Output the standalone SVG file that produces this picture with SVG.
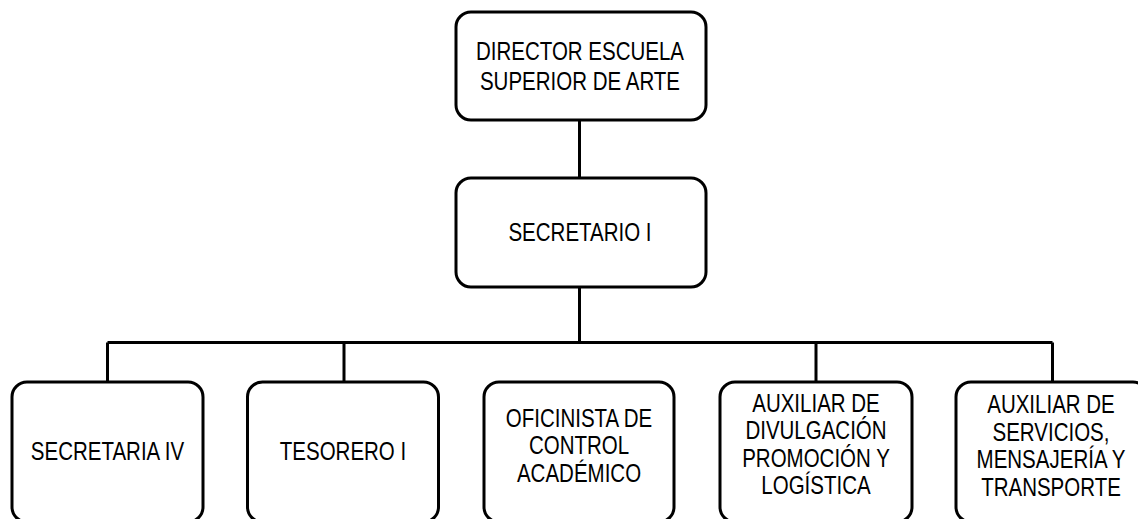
<svg xmlns="http://www.w3.org/2000/svg" width="1138" height="519" viewBox="0 0 1138 519">
<style>
.box{fill:#fff;stroke:#000;stroke-width:3}
.conn{fill:none;stroke:#000;stroke-width:3}
text{font-family:"Liberation Sans",Arial,sans-serif;font-size:25px;fill:#000;text-anchor:middle}
</style>
<rect width="1138" height="519" fill="#fff"/>
<g id="connectors">
<path class="conn" d="M579.5 120V178M579.5 287V342.5M107.5 342.5H1052.5M107.5 342.5V382M344 342.5V382M816 342.5V382M1052.5 342.5V382"/>
</g>
<g id="director">
<rect class="box" x="456" y="12" width="250" height="108" rx="15"/>
<g transform="translate(580 0) scale(0.82 1)">
<text x="0" y="60">DIRECTOR ESCUELA</text>
<text x="0" y="90">SUPERIOR DE ARTE</text>
</g>
</g>
<g id="secretario">
<rect class="box" x="456" y="178" width="250" height="109" rx="15"/>
<g transform="translate(580 0) scale(0.82 1)">
<text x="0" y="241">SECRETARIO I</text>
</g>
</g>
<g id="secretaria">
<rect class="box" x="12" y="382" width="191" height="140" rx="15"/>
<g transform="translate(107.5 0) scale(0.82 1)">
<text x="0" y="460">SECRETARIA IV</text>
</g>
</g>
<g id="tesorero">
<rect class="box" x="247.5" y="382" width="191" height="140" rx="15"/>
<g transform="translate(343 0) scale(0.82 1)">
<text x="0" y="460">TESORERO I</text>
</g>
</g>
<g id="oficinista">
<rect class="box" x="484" y="382" width="190" height="140" rx="15"/>
<g transform="translate(579 0) scale(0.82 1)">
<text x="0" y="427">OFICINISTA DE</text>
<text x="0" y="454.5">CONTROL</text>
<text x="0" y="482">ACADÉMICO</text>
</g>
</g>
<g id="divulgacion">
<rect class="box" x="720" y="382" width="192" height="140" rx="15"/>
<g transform="translate(816 0) scale(0.82 1)">
<text x="0" y="412">AUXILIAR DE</text>
<text x="0" y="439.5">DIVULGACIÓN</text>
<text x="0" y="467">PROMOCIÓN Y</text>
<text x="0" y="494.5">LOGÍSTICA</text>
</g>
</g>
<g id="servicios">
<rect class="box" x="956" y="382" width="192" height="140" rx="15"/>
<g transform="translate(1051 0) scale(0.82 1)">
<text x="0" y="413">AUXILIAR DE</text>
<text x="0" y="441">SERVICIOS,</text>
<text x="0" y="468.5">MENSAJERÍA Y</text>
<text x="0" y="496.5">TRANSPORTE</text>
</g>
</g>
</svg>
